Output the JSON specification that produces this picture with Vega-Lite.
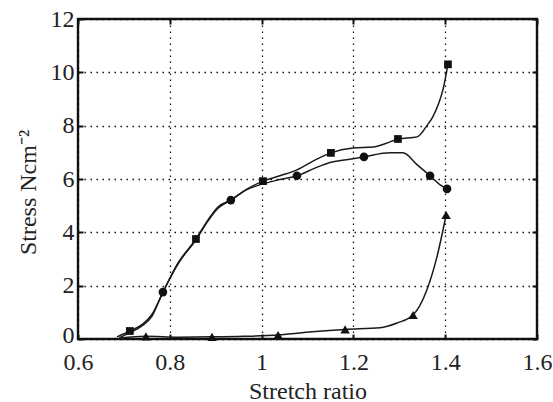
{
  "$schema": "https://vega.github.io/schema/vega-lite/v6.json",
  "width": 459,
  "height": 320,
  "autosize": {"type": "none"},
  "padding": {"left": 78, "top": 19, "right": 16, "bottom": 63},
  "background": "#ffffff",
  "config": {
    "font": "Times New Roman, Liberation Serif, serif",
    "view": {"stroke": "#111111", "strokeWidth": 2.4}
  },
  "data": {
    "values": [
      {"series": "A", "x": 0.685, "y": 0.08, "m": false},
      {"series": "A", "x": 0.713, "y": 0.30, "m": true},
      {"series": "A", "x": 0.740, "y": 0.55, "m": false},
      {"series": "A", "x": 0.761, "y": 0.92, "m": false},
      {"series": "A", "x": 0.785, "y": 1.75, "m": false},
      {"series": "A", "x": 0.818, "y": 2.85, "m": false},
      {"series": "A", "x": 0.857, "y": 3.75, "m": true},
      {"series": "A", "x": 0.883, "y": 4.46, "m": false},
      {"series": "A", "x": 0.905, "y": 4.95, "m": false},
      {"series": "A", "x": 0.933, "y": 5.21, "m": false},
      {"series": "A", "x": 0.968, "y": 5.62, "m": false},
      {"series": "A", "x": 1.003, "y": 5.92, "m": true},
      {"series": "A", "x": 1.040, "y": 6.12, "m": false},
      {"series": "A", "x": 1.077, "y": 6.34, "m": false},
      {"series": "A", "x": 1.115, "y": 6.70, "m": false},
      {"series": "A", "x": 1.151, "y": 6.98, "m": true},
      {"series": "A", "x": 1.199, "y": 7.16, "m": false},
      {"series": "A", "x": 1.243, "y": 7.20, "m": false},
      {"series": "A", "x": 1.270, "y": 7.33, "m": false},
      {"series": "A", "x": 1.297, "y": 7.50, "m": true},
      {"series": "A", "x": 1.339, "y": 7.58, "m": false},
      {"series": "A", "x": 1.360, "y": 8.00, "m": false},
      {"series": "A", "x": 1.373, "y": 8.33, "m": false},
      {"series": "A", "x": 1.385, "y": 8.80, "m": false},
      {"series": "A", "x": 1.395, "y": 9.34, "m": false},
      {"series": "A", "x": 1.406, "y": 10.30, "m": true},

      {"series": "B", "x": 0.690, "y": 0.05, "m": false},
      {"series": "B", "x": 0.715, "y": 0.25, "m": false},
      {"series": "B", "x": 0.740, "y": 0.50, "m": false},
      {"series": "B", "x": 0.761, "y": 0.85, "m": false},
      {"series": "B", "x": 0.785, "y": 1.76, "m": true},
      {"series": "B", "x": 0.818, "y": 2.82, "m": false},
      {"series": "B", "x": 0.857, "y": 3.72, "m": false},
      {"series": "B", "x": 0.883, "y": 4.42, "m": false},
      {"series": "B", "x": 0.905, "y": 4.90, "m": false},
      {"series": "B", "x": 0.933, "y": 5.21, "m": true},
      {"series": "B", "x": 0.968, "y": 5.60, "m": false},
      {"series": "B", "x": 1.003, "y": 5.82, "m": false},
      {"series": "B", "x": 1.040, "y": 5.98, "m": false},
      {"series": "B", "x": 1.077, "y": 6.12, "m": true},
      {"series": "B", "x": 1.115, "y": 6.40, "m": false},
      {"series": "B", "x": 1.149, "y": 6.62, "m": false},
      {"series": "B", "x": 1.185, "y": 6.72, "m": false},
      {"series": "B", "x": 1.223, "y": 6.83, "m": true},
      {"series": "B", "x": 1.280, "y": 6.98, "m": false},
      {"series": "B", "x": 1.308, "y": 6.98, "m": false},
      {"series": "B", "x": 1.339, "y": 6.53, "m": false},
      {"series": "B", "x": 1.367, "y": 6.12, "m": true},
      {"series": "B", "x": 1.389, "y": 5.78, "m": false},
      {"series": "B", "x": 1.404, "y": 5.63, "m": true},

      {"series": "C", "x": 0.690, "y": 0.03, "m": false},
      {"series": "C", "x": 0.748, "y": 0.10, "m": true},
      {"series": "C", "x": 0.820, "y": 0.07, "m": false},
      {"series": "C", "x": 0.892, "y": 0.08, "m": true},
      {"series": "C", "x": 0.960, "y": 0.10, "m": false},
      {"series": "C", "x": 1.036, "y": 0.15, "m": true},
      {"series": "C", "x": 1.110, "y": 0.27, "m": false},
      {"series": "C", "x": 1.182, "y": 0.36, "m": true},
      {"series": "C", "x": 1.258, "y": 0.42, "m": false},
      {"series": "C", "x": 1.295, "y": 0.60, "m": false},
      {"series": "C", "x": 1.330, "y": 0.90, "m": true},
      {"series": "C", "x": 1.360, "y": 1.84, "m": false},
      {"series": "C", "x": 1.382, "y": 3.08, "m": false},
      {"series": "C", "x": 1.402, "y": 4.65, "m": true}
    ]
  },
  "resolve": {"axis": {"x": "independent", "y": "independent"}},
  "layer": [
    {
      "mark": {"type": "line", "interpolate": "monotone", "color": "#1a1a1a", "strokeWidth": 1.5},
      "encoding": {
        "x": {
          "field": "x", "type": "quantitative",
          "scale": {"domain": [0.6, 1.6], "nice": false},
          "axis": {
            "orient": "bottom", "title": "Stretch ratio", "values": [0.6, 0.8, 1, 1.2, 1.4, 1.6],
            "labelExpr": "datum.value == 1 ? '1' : format(datum.value, '.1f')",
            "grid": true, "gridColor": "#111111", "gridDash": [1.5, 4.5], "gridWidth": 1.3, "gridOpacity": 1,
            "domain": false, "ticks": true, "tickSize": -5, "tickColor": "#111111", "tickWidth": 2,
            "labelFontSize": 24, "labelColor": "#222222", "labelPadding": 35, "labelBaseline": "alphabetic",
            "labelOverlap": false, "labelBound": false, "labelFlush": false,
            "titleFontSize": 24, "titleFontWeight": "normal", "titleColor": "#222222",
            "titleBaseline": "alphabetic", "titleY": 59
          }
        },
        "y": {
          "field": "y", "type": "quantitative",
          "scale": {"domain": [0, 12], "nice": false},
          "axis": {
            "orient": "left", "title": "Stress Ncm⁻²", "values": [0, 2, 4, 6, 8, 10, 12],
            "grid": true, "gridColor": "#111111", "gridDash": [1.5, 4.5], "gridWidth": 1.3, "gridOpacity": 1,
            "domain": false, "ticks": true, "tickSize": -5, "tickColor": "#111111", "tickWidth": 2,
            "labelFontSize": 24, "labelColor": "#222222", "labelPadding": 9,
            "labelOffset": {"condition": {"test": "datum.value == 0", "value": -4}, "value": 0},
            "labelOverlap": false, "labelBound": false, "labelFlush": false,
            "titleFontSize": 24, "titleFontWeight": "normal", "titleColor": "#222222",
            "titleBaseline": "alphabetic", "titleX": -43, "titleY": 173
          }
        },
        "detail": {"field": "series"}
      }
    },
    {
      "transform": [{"filter": "datum.m"}],
      "mark": {"type": "point", "filled": true, "color": "#111111", "opacity": 1},
      "encoding": {
        "x": {
          "field": "x", "type": "quantitative",
          "axis": {"orient": "top", "title": null, "labels": false, "grid": false, "domain": false,
                   "values": [0.6, 0.8, 1, 1.2, 1.4, 1.6], "tickSize": -5, "tickColor": "#111111", "tickWidth": 2}
        },
        "y": {
          "field": "y", "type": "quantitative",
          "axis": {"orient": "right", "title": null, "labels": false, "grid": false, "domain": false,
                   "values": [0, 2, 4, 6, 8, 10, 12], "tickSize": -5, "tickColor": "#111111", "tickWidth": 2}
        },
        "shape": {
          "field": "series", "type": "nominal", "legend": null,
          "scale": {"domain": ["A", "B", "C"], "range": ["square", "circle", "triangle-up"]}
        },
        "size": {
          "field": "series", "type": "nominal", "legend": null,
          "scale": {"domain": ["A", "B", "C"], "range": [60, 90, 75]}
        }
      }
    }
  ]
}
